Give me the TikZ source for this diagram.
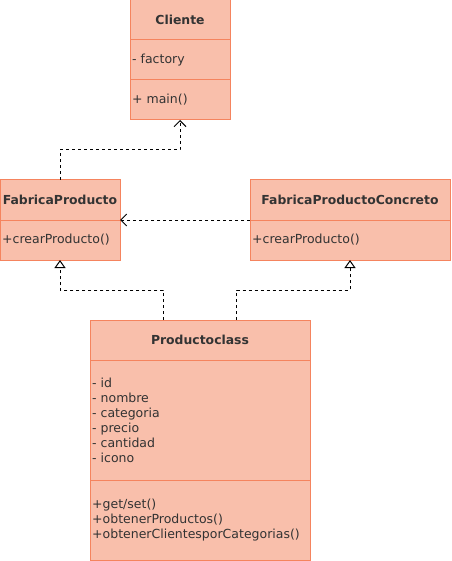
\documentclass[tikz,border=0pt]{standalone}
\usepackage{fontspec}
\setmainfont{DejaVu Sans}
\usetikzlibrary{arrows.meta,calc}
\definecolor{umlfill}{HTML}{F9BFAB}
\definecolor{umlline}{HTML}{F5845E}
\definecolor{umltext}{HTML}{333333}
\begin{document}
\begin{tikzpicture}[x=1pt,y=-1pt,
  box/.style n args={2}{draw=umlline,fill=umlfill,line width=1pt,inner sep=0pt,outer sep=0pt,
    minimum width=#1,minimum height=#2,anchor=north west,rectangle},
  divider/.style={draw=umlline,line width=1pt},
  title/.style={font=\bfseries\fontsize{12.4}{15}\selectfont,text=umltext,inner sep=0pt},
  item/.style={font=\fontsize{12.5}{15}\selectfont,text=umltext,align=left,anchor=west,inner sep=0pt},
  dep/.style={draw=black,line width=1pt,dash pattern=on 3pt off 3pt,-{Straight Barb[length=6pt,width=12pt]}},
  real/.style={draw=black,line width=1pt,dash pattern=on 3pt off 3pt,-{Triangle[open,fill=white,length=8pt,width=11pt]}}]
\useasboundingbox (0,0) rectangle (451,561);
% Cliente
\node[box={100pt}{120pt}] (cl) at (130,0) {};
\draw[divider] (130,40) -- (230,40);
\draw[divider] (130,80) -- (230,80);
\node[title] (clt) at (180,20) {Cliente};
\node[item] (cla) at (132,60) {- factory};
\node[item] (clm) at (132,100) {+ main()};
% FabricaProducto
\node[box={120pt}{80pt}] (fp) at (0,180) {};
\draw[divider] (0,220) -- (120,220);
\node[title] (fpt) at (60,200) {FabricaProducto};
\node[item] (fpm) at (2,240) {+crearProducto()};
% FabricaProductoConcreto
\node[box={200pt}{80pt}] (fpc) at (250,180) {};
\draw[divider] (250,220) -- (450,220);
\node[title] (fpct) at (350,200) {FabricaProductoConcreto};
\node[item] (fpcm) at (252,240) {+crearProducto()};
% Productoclass
\node[box={220pt}{240pt}] (pc) at (90,320) {};
\draw[divider] (90,360) -- (310,360);
\draw[divider] (90,480) -- (310,480);
\node[title] (pct) at (200,340) {Productoclass};
\node[item] (pca) at (92,420) {- id\\- nombre\\- categoria\\- precio\\- cantidad\\- icono};
\node[item] (pcm) at (92,520) {+get/set()\\+obtenerProductos()\\+obtenerClientesporCategorias()};
% connectors
\coordinate (c1) at (180,150);
\draw[dep] (fp.north) |- (c1) -- (cl.south);
\draw[dep] (fpc.west) -- (fp.east);
\coordinate (p1) at ($(pc.north west)!1/3!(pc.north east)$);
\coordinate (p2) at ($(pc.north west)!2/3!(pc.north east)$);
\draw[real] (p1) -- ++(0,-30) -| (fp.south);
\draw[real] (p2) -- ++(0,-30) -| (fpc.south);
\end{tikzpicture}
\end{document}
